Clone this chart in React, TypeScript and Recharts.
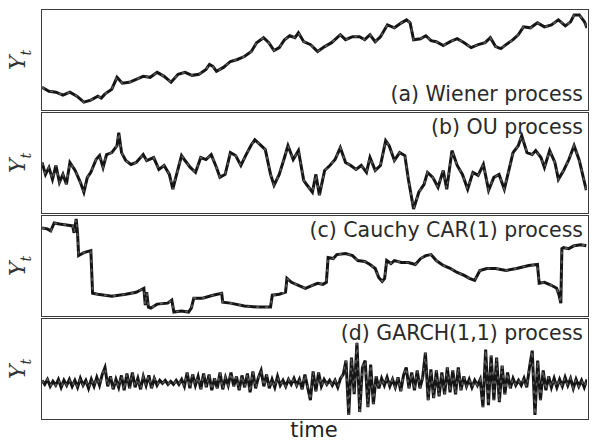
import React from 'react';
import { LineChart, Line, XAxis, YAxis } from 'recharts';

// [time, value] pairs, value 0..100 = panel bottom..top
const wienerPts: [number, number][] = [
  [0, 22], [20, 18], [40, 17], [60, 14], [80, 17], [100, 13], [120, 7], [140, 9], [160, 13], [170, 11],
  [180, 15], [200, 20], [215, 32], [230, 26], [250, 27], [270, 30], [290, 33], [310, 32], [330, 37], [350, 33],
  [370, 27], [390, 35], [410, 37], [430, 34], [450, 35], [470, 40], [480, 45], [490, 43], [500, 38], [520, 42],
  [540, 48], [560, 50], [580, 53], [600, 58], [615, 67], [635, 72], [650, 67], [665, 59], [680, 62], [695, 70],
  [710, 74], [725, 72], [735, 77], [750, 68], [770, 65], [790, 58], [810, 63], [830, 67], [855, 75], [870, 70],
  [890, 73], [910, 73], [925, 70], [940, 75], [955, 68], [970, 73], [990, 85], [1010, 82], [1030, 87], [1045, 90],
  [1055, 87], [1065, 70], [1085, 71], [1100, 74], [1115, 69], [1130, 68], [1150, 64], [1170, 68], [1190, 71], [1210, 67],
  [1230, 62], [1250, 65], [1270, 67], [1285, 72], [1300, 63], [1315, 61], [1330, 65], [1350, 70], [1365, 75], [1380, 83],
  [1400, 82], [1420, 87], [1440, 83], [1460, 85], [1480, 90], [1500, 84], [1515, 88], [1525, 95], [1540, 95], [1555, 88],
  [1562, 82],
];

const ouPts: [number, number][] = [
  [0, 50], [10, 38], [20, 45], [30, 33], [40, 47], [50, 30], [60, 38], [70, 28], [80, 50], [95, 42],
  [110, 30], [120, 20], [130, 35], [140, 40], [155, 53], [165, 57], [175, 45], [185, 58], [200, 60], [215, 67],
  [220, 80], [228, 60], [240, 52], [255, 48], [270, 50], [290, 58], [300, 52], [320, 55], [335, 43], [350, 47],
  [365, 38], [375, 23], [385, 37], [400, 57], [410, 52], [425, 45], [440, 40], [455, 55], [470, 53], [485, 58],
  [500, 45], [510, 35], [525, 38], [540, 60], [555, 57], [570, 47], [585, 58], [600, 68], [610, 73], [625, 68],
  [640, 63], [655, 38], [665, 27], [680, 38], [695, 55], [705, 67], [720, 53], [735, 62], [750, 32], [760, 27],
  [775, 20], [785, 38], [795, 17], [810, 42], [825, 47], [840, 53], [855, 65], [870, 50], [885, 47], [900, 43],
  [915, 47], [930, 40], [940, 55], [955, 42], [970, 47], [985, 72], [995, 67], [1010, 52], [1025, 60], [1040, 57],
  [1050, 33], [1065, 3], [1080, 20], [1095, 28], [1105, 40], [1120, 35], [1135, 25], [1150, 42], [1160, 23], [1175, 62],
  [1190, 47], [1205, 38], [1220, 23], [1235, 40], [1250, 37], [1265, 48], [1280, 22], [1295, 35], [1310, 38], [1325, 23],
  [1340, 45], [1350, 60], [1365, 67], [1375, 77], [1390, 60], [1405, 58], [1415, 62], [1430, 55], [1440, 45], [1455, 62],
  [1470, 50], [1480, 33], [1495, 42], [1510, 53], [1525, 67], [1540, 52], [1560, 22],
];

const cauchyPts: [number, number][] = [
  [0, 88], [15, 87], [25, 85], [35, 93], [50, 92], [70, 91], [88, 90], [92, 83], [98, 97], [102, 82],
  [105, 60], [120, 63], [140, 65], [145, 22], [160, 21], [200, 19], [240, 21], [270, 23], [292, 27], [296, 10],
  [300, 23], [305, 8], [312, 7], [330, 11], [360, 12], [372, 15], [378, 3], [400, 4], [420, 3], [428, 7],
  [435, 17], [460, 17], [490, 20], [515, 22], [518, 13], [540, 12], [580, 9], [620, 8], [655, 8], [660, 20],
  [680, 21], [698, 23], [702, 37], [715, 33], [735, 30], [755, 27], [775, 30], [790, 32], [805, 31], [815, 33],
  [820, 58], [835, 57], [845, 61], [870, 62], [890, 60], [905, 55], [925, 54], [940, 51], [955, 47], [965, 38],
  [975, 34], [982, 37], [988, 55], [1000, 52], [1010, 55], [1030, 53], [1050, 53], [1070, 51], [1085, 57], [1100, 60],
  [1115, 61], [1130, 55], [1150, 50], [1170, 47], [1190, 43], [1210, 40], [1225, 37], [1240, 35], [1255, 45], [1275, 47],
  [1300, 47], [1330, 45], [1360, 47], [1395, 50], [1420, 51], [1425, 32], [1440, 33], [1460, 30], [1475, 27], [1482, 20],
  [1487, 12], [1490, 67], [1495, 68], [1510, 67], [1525, 70], [1545, 71], [1560, 70],
];

// GARCH deviations from the zero level, one per step
const garchVals: number[] = [
  2, -2, 3, -4, 1, -3, 3, -5, 2, -3,
  3, -4, 2, -5, 4, -3, 2, -6, 3, -4,
  5, -3, 8, 15, -4, 6, -7, 3, -5, 7,
  -8, 9, -6, 10, -5, 4, -7, 6, -3, 7,
  -6, 4, -3, 2, -1, 2, -2, 1, -2, 2,
  -2, 3, -4, 10, -6, 8, -3, 6, -7, 9,
  -5, 8, -8, 4, -6, 10, -7, 5, -3, 10,
  -4, 6, -8, 7, -5, 9, -10, 11, -6, 5,
  12, -4, 8, -6, 3, -5, 6, -3, 2, -4,
  3, -2, 4, -3, 3, -7, 8, -5, -18, 11,
  -9, 10, -4, 3, -2, 2, -3, 2, -5, 4,
  8, 22, -33, 25, -12, 40, -30, 15, 22, -25,
  18, -22, 6, -6, 4, -3, 5, -4, 3, -5,
  5, -9, 7, 15, -6, 10, -8, 12, -6, 5,
  30, -18, 13, -16, 12, -14, 10, -12, 15, -10,
  12, -12, 15, -8, 6, -4, 3, -5, 2, -3,
  3, -25, 33, -23, 27, -18, 25, -20, 17, -12,
  10, -6, 4, -3, 2, -3, 4, -5, 15, 32,
  -33, 22, -18, 12, -8, 6, -5, 4, -5, 3,
  -4, 5, -3, 4, -6, 3, -4, 2, -5, 3,
];

const panelTops = [9, 112, 215, 318];
const panelLabels = ['(a) Wiener process', '(b) OU process', '(c) Cauchy CAR(1) process', '(d) GARCH(1,1) process'];

const toRows = (pts: [number, number][]) => pts.map(([t, v]) => ({ t, v }));

function Panel({ top, data, domainX, domainY, label, labelBottom }: any) {
  return (
    <div
      style={{
        position: 'absolute', left: 41, top, width: 548, height: 102,
        boxSizing: 'border-box', border: '1.5px solid #3c3c3c', background: '#fff',
      }}
    >
      <LineChart width={545} height={99} data={data} margin={{ top: 0, right: 0, bottom: 0, left: 0 }}>
        <XAxis type="number" dataKey="t" domain={domainX} hide />
        <YAxis type="number" domain={domainY} hide allowDataOverflow />
        <Line type="linear" dataKey="v" stroke="#151515" strokeWidth={3} dot={false} isAnimationActive={false} />
        <Line type="linear" dataKey="v" stroke="#5a5a5a" strokeWidth={1.6} strokeDasharray="3 6" dot={false} isAnimationActive={false} />
      </LineChart>
      <div
        style={{
          position: 'absolute', right: 5, ...(labelBottom ? { bottom: 4 } : { top: 2 }),
          fontFamily: 'DejaVu Sans', fontSize: 20.5, color: '#2a2a2a', whiteSpace: 'nowrap',
        }}
      >
        {label}
      </div>
      <div
        style={{
          position: 'absolute', left: -22, top: 50, transform: 'translate(-50%, -50%) rotate(-90deg)',
          fontFamily: 'DejaVu Serif', fontStyle: 'italic', fontSize: 22, color: '#333', whiteSpace: 'nowrap',
          lineHeight: 1,
        }}
      >
        Y<sub style={{ fontSize: 14 }}>t</sub>
      </div>
    </div>
  );
}

export default function App() {
  const garchRows = garchVals.map((v, i) => ({ t: i, v }));
  return (
    <div style={{ position: 'absolute', left: 0, top: 0, width: 600, height: 441, background: '#fff' }}>
      <Panel top={panelTops[0]} data={toRows(wienerPts)} domainX={[0, 1562]} domainY={[0, 100]} label={panelLabels[0]} labelBottom />
      <Panel top={panelTops[1]} data={toRows(ouPts)} domainX={[0, 1562]} domainY={[0, 100]} label={panelLabels[1]} />
      <Panel top={panelTops[2]} data={toRows(cauchyPts)} domainX={[0, 1562]} domainY={[0, 100]} label={panelLabels[2]} />
      <Panel top={panelTops[3]} data={garchRows} domainX={[0, garchVals.length - 1]} domainY={[-36, 64]} label={panelLabels[3]} />
      <div
        style={{
          position: 'absolute', left: 314, top: 420, transform: 'translateX(-50%)',
          fontFamily: 'DejaVu Sans', fontSize: 21, color: '#222', lineHeight: '20px',
        }}
      >
        time
      </div>
    </div>
  );
}
